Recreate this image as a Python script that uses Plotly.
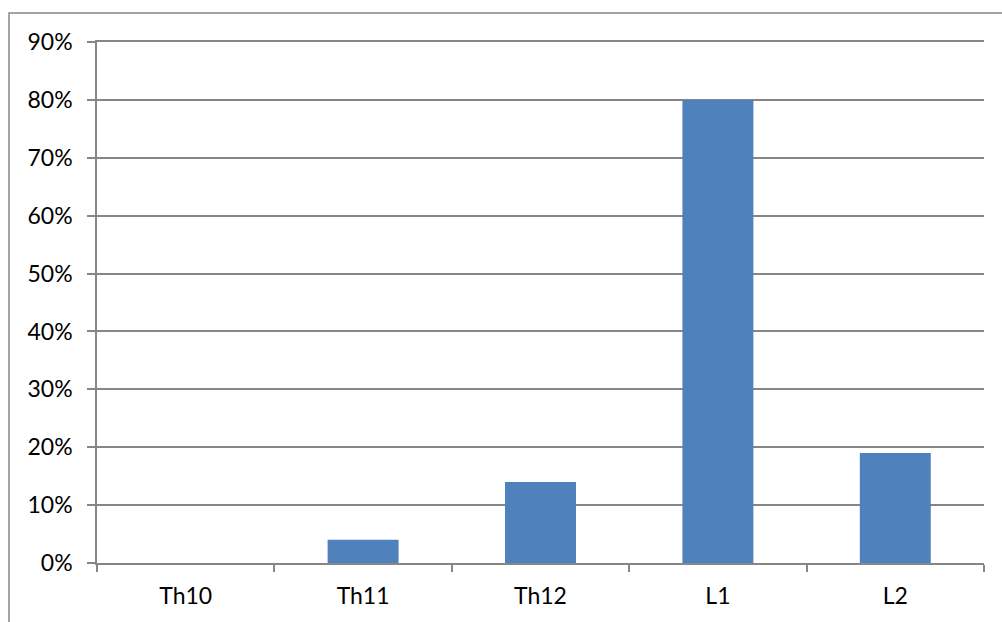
import plotly.graph_objects as go

categories = ["Th10", "Th11", "Th12", "L1", "L2"]
values = [0.0, 0.04, 0.14, 0.80, 0.19]
y_ticks = [0, 0.1, 0.2, 0.3, 0.4, 0.5, 0.6, 0.7, 0.8, 0.9]
y_tick_labels = ["0%", "10%", "20%", "30%", "40%", "50%", "60%", "70%", "80%", "90%"]

W, H = 1002, 622
ml, mr, mt, mb = 97, 18, 42, 59
pw, ph = W - ml - mr, H - mt - mb

grid = "#868686"
font = dict(family="Lato, Carlito, Calibri, sans-serif", size=23, color="#000000")

fig = go.Figure(go.Bar(
    x=categories, y=values,
    marker=dict(color="#4F81BD", line=dict(width=0)),
    width=0.4,
))

fig.update_layout(
    width=W, height=H,
    margin=dict(l=ml, r=mr, t=mt, b=mb),
    paper_bgcolor="white", plot_bgcolor="white",
    font=font, showlegend=False, bargap=0.6,
    xaxis=dict(
        showgrid=False, showline=True, linecolor=grid, linewidth=1.5, mirror=True,
        ticks="outside", tickson="boundaries", ticklen=7, tickcolor=grid, tickwidth=1.5,
        tickfont=font, range=[-0.5, 4.5], ticklabelstandoff=12,
    ),
    yaxis=dict(
        range=[0, 0.9], tickvals=y_ticks, ticktext=y_tick_labels,
        showgrid=True, gridcolor=grid, gridwidth=1.5,
        showline=True, linecolor=grid, linewidth=1.5,
        ticks="outside", ticklen=8, tickcolor=grid, tickwidth=1.5,
        tickfont=font, zeroline=False, ticklabelstandoff=10,
    ),
    shapes=[
        dict(type="rect", xref="paper", yref="paper",
             x0=(9 - ml) / pw, x1=(W + 20 - ml) / pw,
             y0=-(mb + 20) / ph, y1=(ph + mt - 13) / ph,
             line=dict(color=grid, width=1.5), fillcolor="rgba(0,0,0,0)", layer="below"),
    ],
)

fig.write_html("out.html")
